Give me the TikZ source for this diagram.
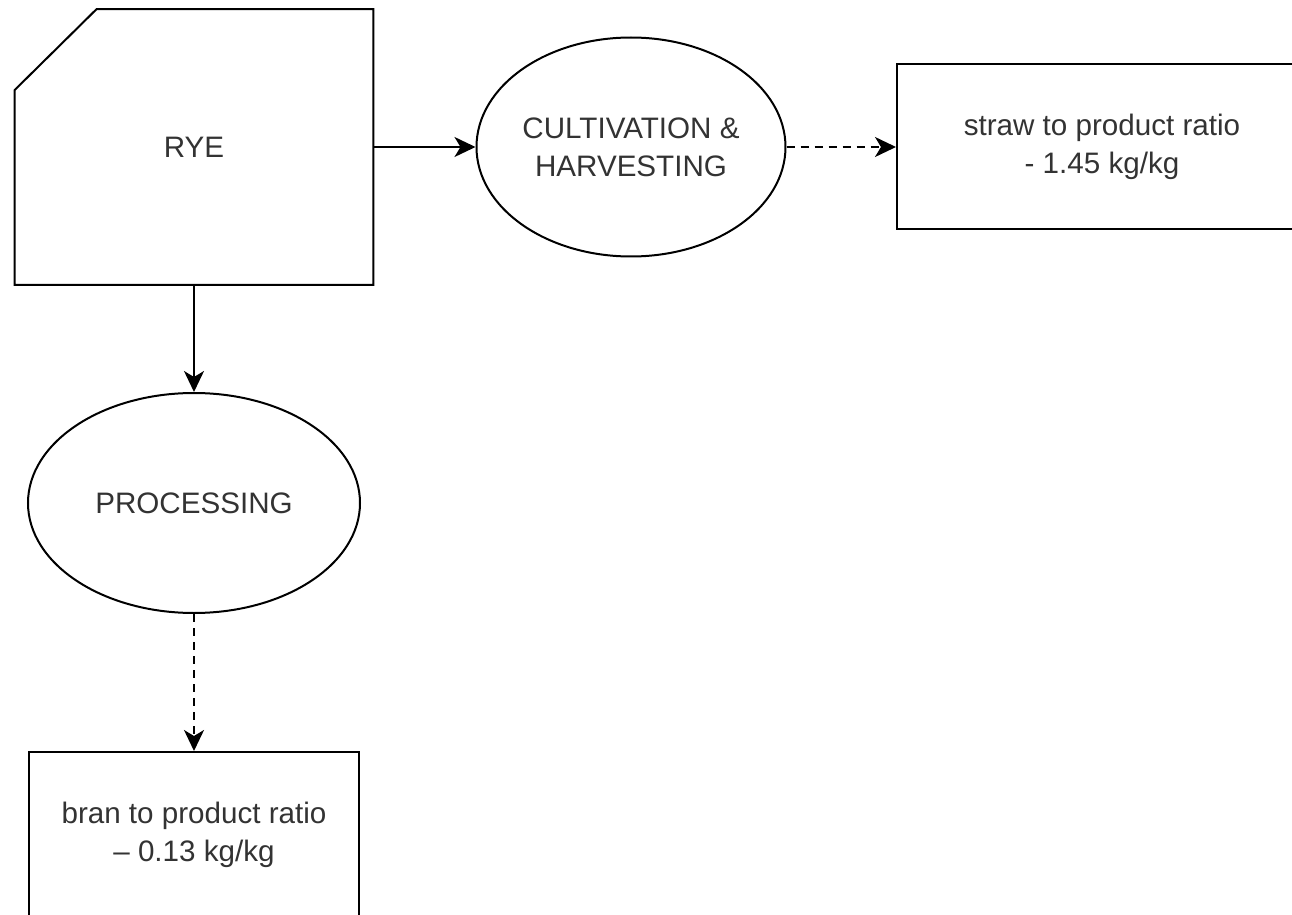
\documentclass[tikz,border=0pt]{standalone}
\usepackage{fontspec}
\setmainfont{Liberation Sans}
\usepackage{xcolor}
\usepackage{tikz}
\usetikzlibrary{positioning, arrows.meta, calc, shapes.geometric}
\definecolor{labelgray}{HTML}{333333}

\tikzset{
  flowtext/.style={font=\fontsize{14.8}{19}\selectfont, text=labelgray, align=center},
  procoval/.style={ellipse, draw, line width=1pt, flowtext, inner sep=0pt},
  ratiobox/.style={rectangle, draw, line width=1pt, flowtext, inner sep=0pt},
  flowarrow/.style={-{Stealth[length=10.5pt, width=10pt, inset=3pt]}, line width=1pt},
  sidearrow/.style={flowarrow, dash pattern=on 4pt off 3pt}
}

\begin{document}
\begin{tikzpicture}[x=0.5pt, y=-0.5pt]
    \useasboundingbox (0,0) rectangle (1292,915);
    \clip (0,0) rectangle (1292,915);
    \fill[white] (0,0) rectangle (1292,915);
    % raw material card
    \node[flowtext, minimum width=179pt, minimum height=137.5pt] (rye) at (194,147) {RYE};
    \draw[line width=1pt] ($(rye.north west)+(0,81)$) -- ($(rye.north west)+(82,0)$)
      -- (rye.north east) -- (rye.south east) -- (rye.south west) -- cycle;
    % processes and by-products
    \node[procoval, minimum width=154.5pt, minimum height=109.5pt] (cult) at (631,147) {CULTIVATION \&\\HARVESTING};
    \node[ratiobox, minimum width=205pt, minimum height=82.5pt] (straw) at (1102,147) {straw to product ratio\\- 1.45 kg/kg};
    \node[procoval, minimum width=166pt, minimum height=110pt] (proc) at (194,503) {PROCESSING};
    \node[ratiobox, minimum width=165pt, minimum height=83pt] (bran) at (194,835) {bran to product ratio\\– 0.13 kg/kg};
    % flows
    \draw[flowarrow] (rye.east) -- (cult.west);
    \draw[flowarrow] (rye.south) -- (proc.north);
    \draw[sidearrow] (cult.east) -- (straw.west);
    \draw[sidearrow] (proc.south) -- (bran.north);
\end{tikzpicture}
\end{document}
